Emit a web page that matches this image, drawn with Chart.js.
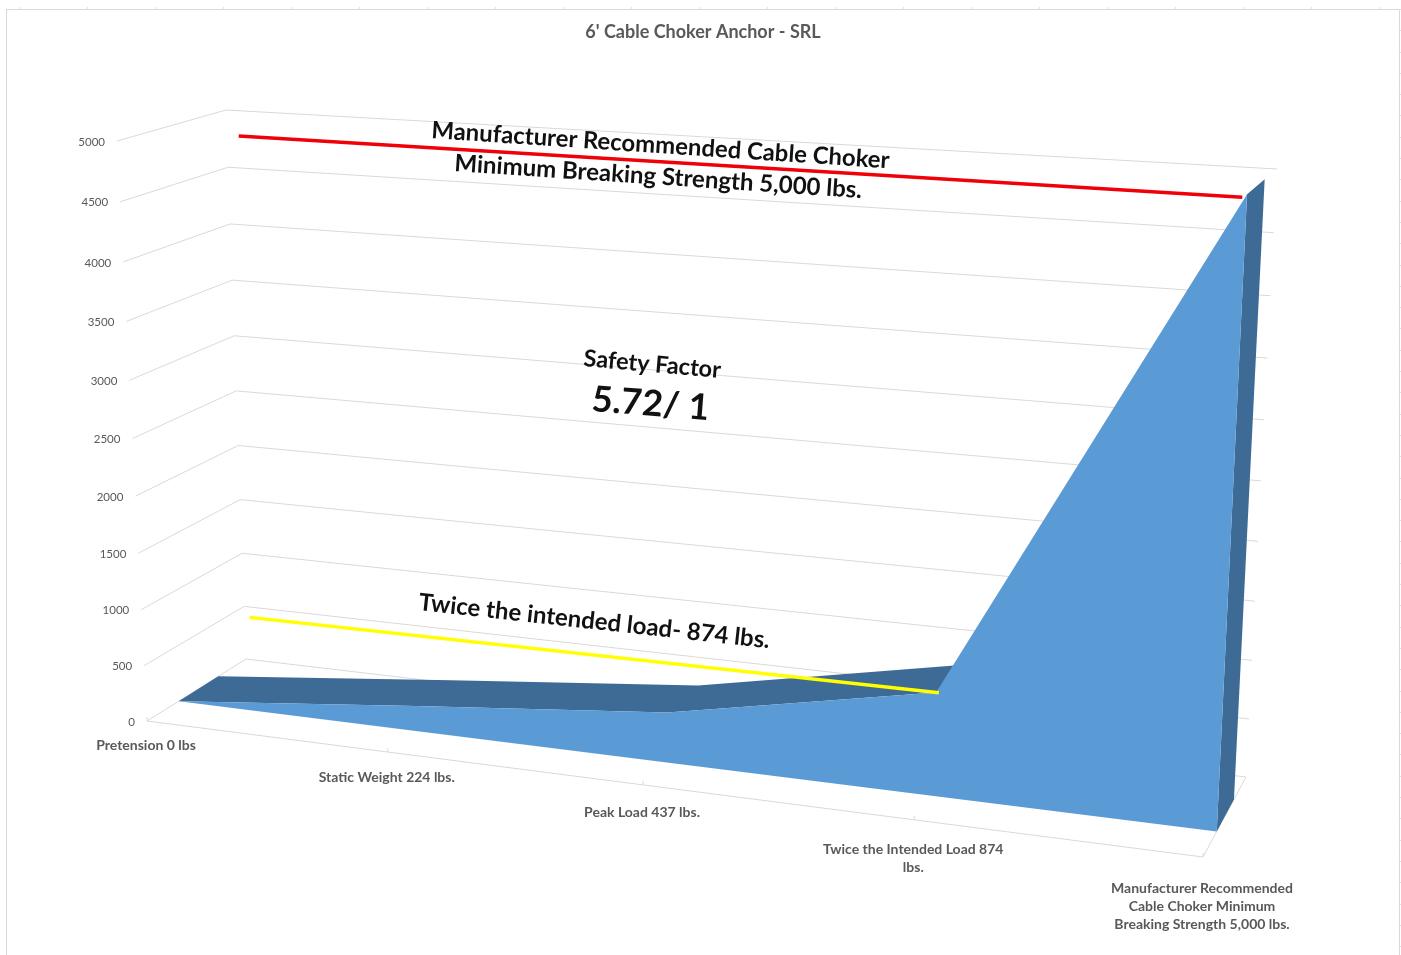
<!DOCTYPE html>
<html>
<head>
<meta charset="utf-8">
<title>6' Cable Choker Anchor - SRL</title>
<script src="https://cdn.jsdelivr.net/npm/chart.js@4"></script>
<style>
  html, body { margin: 0; background: #fff; overflow: hidden; }
  #frame { position: absolute; left: 6px; top: 9px; width: 1392px; height: 960px; border: 1px solid #d9d9d9; }
  #topMarks { position: absolute; left: 19px; top: 7px; width: 1380px; height: 3px;
    background: repeating-linear-gradient(90deg, #e2e2e2 0 1px, transparent 1px 68px); }
  #sideMarks { position: absolute; left: 1399px; top: 9px; width: 2px; height: 946px;
    background: repeating-linear-gradient(180deg, #e2e2e2 0 1px, transparent 1px 21.3px); }
  #myChart { position: absolute; left: 0; top: 0; }
</style>
</head>
<body>
<div id="frame"></div>
<div id="topMarks"></div>
<div id="sideMarks"></div>
<canvas id="myChart" width="1401" height="955"></canvas>
<script>
const categories = [
  ['Pretension 0 lbs'],
  ['Static Weight 224 lbs.'],
  ['Peak Load 437 lbs.'],
  ['Twice the Intended Load 874', 'lbs.'],
  ['Manufacturer Recommended', 'Cable Choker Minimum', 'Breaking Strength 5,000 lbs.']
];
const categoryIndex = [0, 1, 2, 3, 4];
const loads = [0, 224, 437, 874, 5000];
const strengthX = [0.355, 3.985];
const strengthLine = [5000, 4975];
const twiceX = [0.32, 3.01];
const twiceLine = [845, 874];

// the 3D box the Excel chart sits in, corners as seen on screen
const frontPlane = [[147, 721], [1203, 857], [1233, 206], [117, 141]];
const backPlane = [[246, 659], [1246, 777], [1277, 169], [226, 110]];
const areaDepth = [0.32, 0.72];

function quadMap(q) {
  const [[x0, y0], [x1, y1], [x2, y2], [x3, y3]] = q;
  const dx1 = x1 - x2, dx2 = x3 - x2, sx = x0 - x1 + x2 - x3;
  const dy1 = y1 - y2, dy2 = y3 - y2, sy = y0 - y1 + y2 - y3;
  const den = dx1 * dy2 - dx2 * dy1;
  const g = (sx * dy2 - dx2 * sy) / den;
  const h = (dx1 * sy - sx * dy1) / den;
  const a = x1 - x0 + g * x1, b = x3 - x0 + h * x3;
  const d = y1 - y0 + g * y1, e = y3 - y0 + h * y3;
  return (u, v) => {
    const k = g * u + h * v + 1;
    return [(a * u + b * v + x0) / k, (d * u + e * v + y0) / k];
  };
}
const toFront = quadMap(frontPlane);
const toBack = quadMap(backPlane);

function project(u, v, w) {
  const f = toFront(u, v), b = toBack(u, v);
  return [f[0] + (b[0] - f[0]) * w, f[1] + (b[1] - f[1]) * w];
}

function polygon(ctx, pts, color) {
  ctx.beginPath();
  pts.forEach((p, i) => i ? ctx.lineTo(p[0], p[1]) : ctx.moveTo(p[0], p[1]));
  ctx.closePath();
  ctx.fillStyle = color;
  ctx.fill();
}

function stroke(ctx, a, b, color, width) {
  ctx.beginPath();
  ctx.moveTo(a[0], a[1]);
  ctx.lineTo(b[0], b[1]);
  ctx.strokeStyle = color;
  ctx.lineWidth = width;
  ctx.stroke();
}

const notes = [
  { text: 'Manufacturer Recommended Cable Choker', x: 431, y: 138, angle: 3.8, size: 23.9 },
  { text: 'Minimum Breaking Strength 5,000 lbs.', x: 454, y: 171, angle: 3.8, size: 24 },
  { text: 'Safety Factor', x: 583, y: 366, angle: 5, size: 23.5 },
  { text: '5.72/ 1', x: 591, y: 411, angle: 4.5, size: 36 },
  { text: 'Twice the intended load- 874 lbs.', x: 418, y: 610, angle: 6.2, size: 24 }
];

// Chart.js keeps the scales and points, this plugin puts them in the perspective box
const perspective = {
  id: 'perspective',
  beforeDatasetsDraw(chart) {
    const ctx = chart.ctx;
    const area = chart.chartArea;
    const xs = chart.scales.x, ys = chart.scales.y;
    const uOf = x => (x - area.left) / area.width;
    const vOf = y => (area.bottom - y) / area.height;

    ctx.save();
    ctx.lineCap = 'butt';

    // walls and floor
    ys.ticks.forEach(t => {
      const v = vOf(ys.getPixelForValue(t.value));
      stroke(ctx, project(0, v, 0), project(0, v, 1), '#d9d9d9', 1);
      stroke(ctx, project(0, v, 1), project(1, v, 1), '#d9d9d9', 1);
      const p = project(0, v, 0);
      ctx.font = '11.5px Lato';
      ctx.fillStyle = '#595959';
      ctx.textAlign = 'right';
      ctx.textBaseline = 'middle';
      ctx.fillText(t.label, p[0] - 12, p[1] + 1);
    });
    stroke(ctx, project(0, 0, 0), project(1, 0, 0), '#d9d9d9', 1);
    stroke(ctx, project(1, 0, 0), project(1, 0, 1), '#d9d9d9', 1);

    xs.ticks.forEach(t => {
      const u = uOf(xs.getPixelForValue(t.value));
      const p = project(u, 0, 0);
      stroke(ctx, p, [p[0], p[1] - 4], '#d9d9d9', 1);
      ctx.font = 'bold 14px Lato';
      ctx.fillStyle = '#595959';
      ctx.textAlign = 'center';
      ctx.textBaseline = 'middle';
      [].concat(t.label).forEach((line, i) => ctx.fillText(line, p[0] - 1, p[1] + 24 + 7 * u + i * 18));
    });

    // area series: top and side faces first, front face over them
    const pts = chart.getDatasetMeta(0).data.map(p => [uOf(p.x), vOf(p.y)]);
    const dark = '#3e6b95';
    // one polygon for all the top faces the camera can see, so no seams show
    const topFront = [], topBack = [];
    for (let i = 0; i < pts.length - 1; i++) {
      const a = project(pts[i][0], pts[i][1], areaDepth[0]);
      const b = project(pts[i + 1][0], pts[i + 1][1], areaDepth[0]);
      const c = project(pts[i + 1][0], pts[i + 1][1], areaDepth[1]);
      const d = project(pts[i][0], pts[i][1], areaDepth[1]);
      const facing = (b[0] - a[0]) * (d[1] - a[1]) - (b[1] - a[1]) * (d[0] - a[0]);
      if (facing < 0) {
        if (!topFront.length) { topFront.push(a); topBack.push(d); }
        topFront.push(b);
        topBack.push(c);
      }
    }
    polygon(ctx, topFront.concat(topBack.reverse()), dark);
    const last = pts[pts.length - 1];
    polygon(ctx, [
      project(last[0], last[1], areaDepth[0]),
      project(last[0], last[1], areaDepth[1]),
      project(last[0], 0, areaDepth[1]),
      project(last[0], 0, areaDepth[0])
    ], dark);
    const front = pts.map(p => project(p[0], p[1], areaDepth[0]));
    front.push(project(last[0], 0, areaDepth[0]), project(pts[0][0], 0, areaDepth[0]));
    polygon(ctx, front, '#5b9bd5');

    // the two hand drawn reference lines
    [1, 2].forEach(n => {
      const ds = chart.data.datasets[n];
      const line = chart.getDatasetMeta(n).data.map(p => project(uOf(p.x), vOf(p.y), areaDepth[0]));
      stroke(ctx, line[0], line[1], ds.borderColor, ds.borderWidth);
    });

    notes.forEach(n => {
      ctx.save();
      ctx.translate(n.x, n.y);
      ctx.rotate(n.angle * Math.PI / 180);
      ctx.font = 'bold ' + n.size + 'px Lato';
      ctx.fillStyle = '#111';
      ctx.textAlign = 'left';
      ctx.textBaseline = 'alphabetic';
      ctx.fillText(n.text, 0, 0);
      ctx.restore();
    });
    ctx.restore();
    return false;
  }
};

const ctx = document.getElementById('myChart').getContext('2d');
new Chart(ctx, {
  type: 'line',
  plugins: [perspective],
  data: {
    datasets: [
      {
        label: 'Load',
        data: categoryIndex.map((x, i) => ({ x: x, y: loads[i] })),
        backgroundColor: '#5b9bd5'
      },
      {
        label: 'Minimum Breaking Strength',
        data: strengthX.map((x, i) => ({ x: x, y: strengthLine[i] })),
        borderColor: '#f00008',
        borderWidth: 3.5
      },
      {
        label: 'Twice the intended load',
        data: twiceX.map((x, i) => ({ x: x, y: twiceLine[i] })),
        borderColor: '#ffff00',
        borderWidth: 3.5
      }
    ]
  },
  options: {
    responsive: false,
    animation: false,
    layout: { padding: { left: 5 } },
    plugins: {
      legend: { display: false },
      tooltip: { enabled: false },
      title: {
        display: true,
        text: "6' Cable Choker Anchor - SRL",
        color: '#595959',
        font: { family: 'Lato', size: 18, weight: 'bold' },
        padding: { top: 21, bottom: 10 }
      }
    },
    scales: {
      x: {
        type: 'linear',
        display: false,
        min: 0,
        max: 4,
        ticks: { stepSize: 1, autoSkip: false, callback: v => categories[v] }
      },
      y: {
        display: false,
        min: 0,
        max: 5000,
        ticks: { stepSize: 500, autoSkip: false, callback: v => String(v) }
      }
    }
  }
});
</script>
</body>
</html>
